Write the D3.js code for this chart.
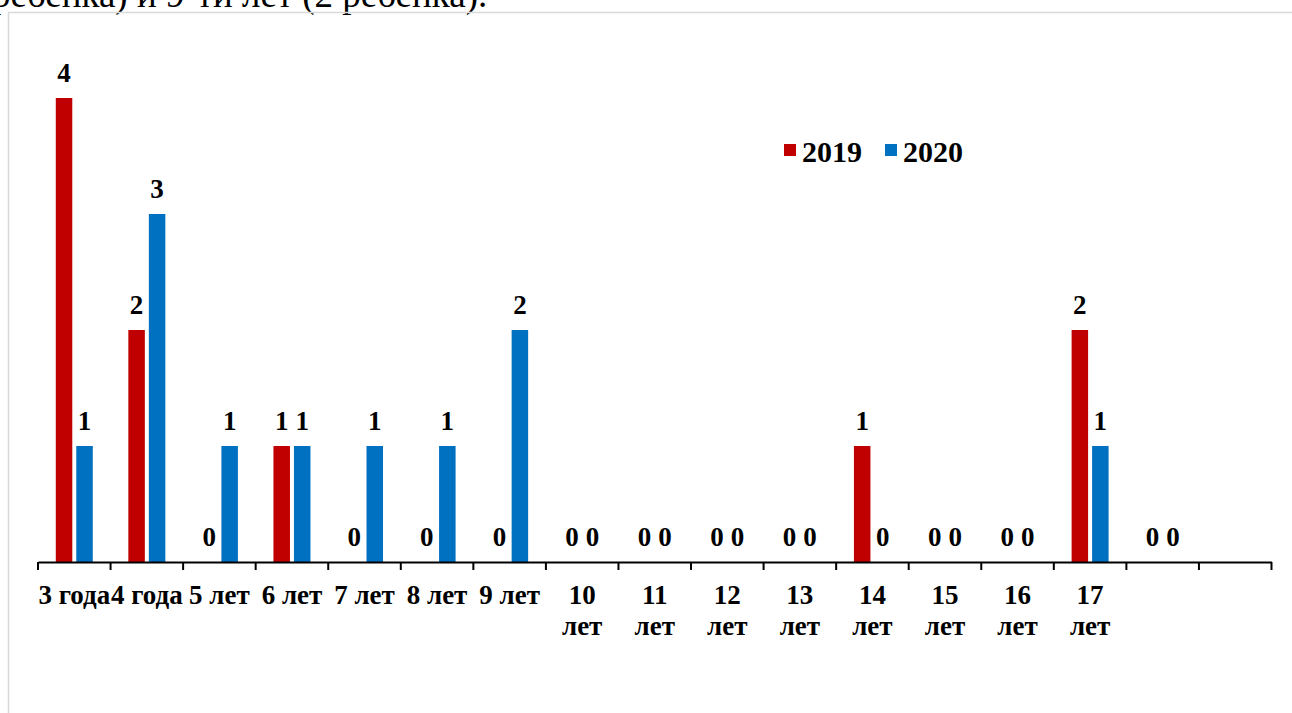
<!DOCTYPE html>
<html>
<head>
<meta charset="utf-8">
<script src="https://cdn.jsdelivr.net/npm/d3@7"></script>
<style>
  body { margin: 0; background: #fff; }
  svg text { font-family: "Liberation Serif", "Times New Roman", serif; }
</style>
</head>
<body>
<div id="my_dataviz"></div>
<script>
// data
var categories = ["3 года", "4 года", "5 лет", "6 лет", "7 лет", "8 лет", "9 лет",
  "10 лет", "11 лет", "12 лет", "13 лет", "14 лет", "15 лет", "16 лет", "17 лет", ""];
var values2019 = [4, 2, 0, 1, 0, 0, 0, 0, 0, 0, 0, 1, 0, 0, 2, 0];
var values2020 = [1, 3, 1, 1, 1, 1, 2, 0, 0, 0, 0, 0, 0, 0, 1, 0];
var seriesNames = ["2019", "2020"];
var colors = ["#c00000", "#0070c0"];

var W = 1292, H = 713;
var svg = d3.select("#my_dataviz")
  .append("svg")
  .attr("width", W)
  .attr("height", H);

// cut text line above the frame
svg.append("text")
  .attr("x", -8)
  .attr("y", 7)
  .style("font-size", "37px")
  .text("ребенка) и 9-ти лет (2 ребенка).");

// chart frame
svg.append("rect")
  .attr("x", 8.5).attr("y", 12.5)
  .attr("width", W).attr("height", H)
  .attr("fill", "none")
  .attr("stroke", "#d9d9d9")
  .attr("stroke-width", 1.5);

// X axis: 17 slots, last one empty
var slots = categories.map(function (d, i) { return "c" + i; });
slots.push("c" + categories.length);
var x = d3.scaleBand()
  .domain(slots)
  .range([38, 1271.5]);

var y = d3.scaleLinear()
  .domain([0, 4])
  .range([562, 98]);

var barW = 16.5, gap = 4;
function barX(i, s) {
  var c = x("c" + i) + x.bandwidth() / 2;
  return s === 0 ? c - gap / 2 - barW : c + gap / 2;
}

var series = [values2019, values2020];
series.forEach(function (vals, s) {
  svg.append("g").selectAll("rect")
    .data(vals)
    .enter()
    .append("rect")
    .attr("x", function (d, i) { return barX(i, s); })
    .attr("width", barW)
    .attr("y", function (d) { return y(d); })
    .attr("height", function (d) { return y(0) - y(d); })
    .attr("fill", colors[s]);

  svg.append("g").selectAll("text")
    .data(vals)
    .enter()
    .append("text")
    .attr("x", function (d, i) { return barX(i, s) + barW / 2; })
    .attr("y", function (d) { return y(d) - 16; })
    .attr("text-anchor", "middle")
    .style("font-size", "27px")
    .style("font-weight", "bold")
    .text(function (d) { return d; });
});

// axis line and ticks
var axisG = svg.append("g")
  .attr("transform", "translate(0,562)")
  .call(d3.axisBottom(x).tickSize(0).tickFormat(""));
axisG.select(".domain").attr("stroke", "#000").attr("stroke-width", 2);
var tickPos = slots.map(function (d) { return x(d); }).concat([x.range()[1]]);
axisG.selectAll(".tk")
  .data(tickPos)
  .enter()
  .append("line")
  .attr("x1", function (d) { return d; })
  .attr("x2", function (d) { return d; })
  .attr("y1", 0).attr("y2", 8)
  .attr("stroke", "#000").attr("stroke-width", 2);

// category labels (wrapped like the original)
categories.forEach(function (c, i) {
  if (!c) return;
  var cx = x("c" + i) + x.bandwidth() / 2;
  var words = c.split(" ");
  var lines = (i >= 7) ? words : [c];
  var t = svg.append("text")
    .attr("text-anchor", "middle")
    .style("font-size", "27px")
    .style("font-weight", "bold");
  lines.forEach(function (l, k) {
    t.append("tspan").attr("x", cx).attr("y", 604 + k * 31).text(l);
  });
});

// legend
var legend = svg.append("g");
var lx = [784, 885];
seriesNames.forEach(function (n, s) {
  legend.append("rect")
    .attr("x", lx[s]).attr("y", 144)
    .attr("width", 12).attr("height", 12)
    .attr("fill", colors[s]);
  legend.append("text")
    .attr("x", lx[s] + 18).attr("y", 162)
    .style("font-size", "30px")
    .style("font-weight", "bold")
    .text(n);
});
</script>
</body>
</html>
